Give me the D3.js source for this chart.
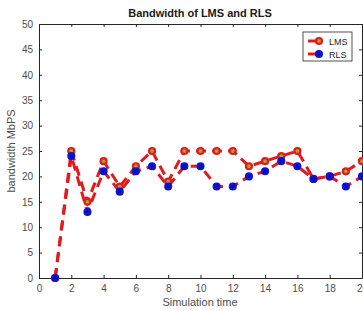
<!DOCTYPE html>
<html>
<head>
<meta charset="utf-8">
<script src="https://cdnjs.cloudflare.com/ajax/libs/d3/7.8.5/d3.min.js"></script>
<style>
  body { margin: 0; background: #fff; }
  svg { display: block; font-family: "Liberation Sans", Arial, sans-serif; }
  .tick text { fill: #4d4d4d; font-size: 10px; }
</style>
</head>
<body>
<div id="chart"></div>
<script>
// chart data
var simTime = [1, 2, 3, 4, 5, 6, 7, 8, 9, 10, 11, 12, 13, 14, 15, 16, 17, 18, 19, 20];
var lmsBandwidth = [0, 25, 15, 23, 18, 22, 25, 19, 25, 25, 25, 25, 22, 23, 24, 25, 19.5, 20, 21, 23];
var rlsBandwidth = [0, 24, 13, 21, 17, 21, 22, 18, 22, 22, 18, 18, 20, 21, 23, 22, 19.5, 20, 18, 20];
var xTicks = [0, 2, 4, 6, 8, 10, 12, 14, 16, 18, 20];
var yTicks = [0, 5, 10, 15, 20, 25, 30, 35, 40, 45, 50];

var svgWidth = 363, svgHeight = 311;
var margin = { top: 24, right: 1, bottom: 33, left: 39 };
var width = svgWidth - margin.left - margin.right;
var height = svgHeight - margin.top - margin.bottom;

var svg = d3.select("#chart").append("svg")
  .attr("width", svgWidth)
  .attr("height", svgHeight);

var g = svg.append("g")
  .attr("transform", `translate(${margin.left}, ${margin.top})`);

var x = d3.scaleLinear().domain([0, 20]).range([0, width]);
var y = d3.scaleLinear().domain([0, 50]).range([height, 0]);

// axes, ticks pointing inward like matlab
var axisColor = "#262626";
function styleAxis(sel) {
  sel.select(".domain").attr("stroke", axisColor);
  sel.selectAll(".tick line").attr("stroke", axisColor);
}

g.append("g")
  .attr("transform", `translate(0, ${height})`)
  .call(d3.axisBottom(x).tickValues(xTicks).tickSizeInner(-3).tickSizeOuter(0).tickPadding(7))
  .call(styleAxis);

g.append("g")
  .call(d3.axisTop(x).tickValues(xTicks).tickSizeInner(-3).tickSizeOuter(0).tickFormat(""))
  .call(styleAxis);

g.append("g")
  .call(d3.axisLeft(y).tickValues(yTicks).tickSizeInner(-3).tickSizeOuter(0).tickPadding(6))
  .call(styleAxis);

g.append("g")
  .attr("transform", `translate(${width}, 0)`)
  .call(d3.axisRight(y).tickValues(yTicks).tickSizeInner(-3).tickSizeOuter(0).tickFormat(""))
  .call(styleAxis);

// lines
var lmsPoints = simTime.map((t, i) => [t, lmsBandwidth[i]]);
var rlsPoints = simTime.map((t, i) => [t, rlsBandwidth[i]]);

var line = d3.line()
  .x(d => x(d[0]))
  .y(d => y(d[1]));

[lmsPoints, rlsPoints].forEach(function (pts) {
  g.append("path")
    .datum(pts)
    .attr("fill", "none")
    .attr("stroke", "#e31a1c")
    .attr("stroke-width", 3)
    .attr("stroke-dasharray", "10,6")
    .attr("d", line);
});

// markers
function lmsMarker(sel) {
  sel.append("circle")
    .attr("r", 3)
    .attr("fill", "#a8a030")
    .attr("stroke", "#e31a1c")
    .attr("stroke-width", 2.2);
}
function rlsMarker(sel) {
  sel.append("circle")
    .attr("r", 3.3)
    .attr("fill", "#0a14d2")
    .attr("stroke", "#0a14d2")
    .attr("stroke-width", 1.5);
  sel.append("circle")
    .attr("r", 0.9)
    .attr("fill", "#101040");
}

g.selectAll(".lms-mark")
  .data(lmsPoints)
  .enter()
  .append("g")
  .attr("transform", d => `translate(${x(d[0])}, ${y(d[1])})`)
  .call(lmsMarker);

g.selectAll(".rls-mark")
  .data(rlsPoints)
  .enter()
  .append("g")
  .attr("transform", d => `translate(${x(d[0])}, ${y(d[1])})`)
  .call(rlsMarker);

// title and axis labels
svg.append("text")
  .attr("x", 200)
  .attr("y", 17)
  .attr("text-anchor", "middle")
  .attr("font-size", 11)
  .attr("font-weight", "bold")
  .attr("fill", "#1a1a1a")
  .text("Bandwidth of LMS and RLS");

svg.append("text")
  .attr("x", 200)
  .attr("y", 306)
  .attr("text-anchor", "middle")
  .attr("font-size", 11)
  .attr("fill", "#4d4d4d")
  .text("Simulation time");

svg.append("text")
  .attr("transform", "rotate(-90)")
  .attr("x", -(margin.top + height / 2))
  .attr("y", 15)
  .attr("text-anchor", "middle")
  .attr("font-size", 11)
  .attr("fill", "#4d4d4d")
  .text("bandwidth MbPS");

// legend
var legend = svg.append("g").attr("transform", "translate(303, 32)");
legend.append("rect")
  .attr("width", 49)
  .attr("height", 29)
  .attr("fill", "#fff")
  .attr("stroke", "#262626")
  .attr("stroke-width", 0.8);

var legendItems = [
  { name: "LMS", marker: lmsMarker },
  { name: "RLS", marker: rlsMarker }
];
legendItems.forEach(function (item, i) {
  var row = legend.append("g").attr("transform", `translate(0, ${9 + i * 13})`);
  row.append("line")
    .attr("x1", 5).attr("x2", 17)
    .attr("stroke", "#e31a1c")
    .attr("stroke-width", 3);
  row.append("g").attr("transform", "translate(16, 0)").call(item.marker);
  row.append("text")
    .attr("x", 26)
    .attr("y", 3.5)
    .attr("font-size", 9)
    .attr("fill", "#262626")
    .text(item.name);
});
</script>
</body>
</html>
